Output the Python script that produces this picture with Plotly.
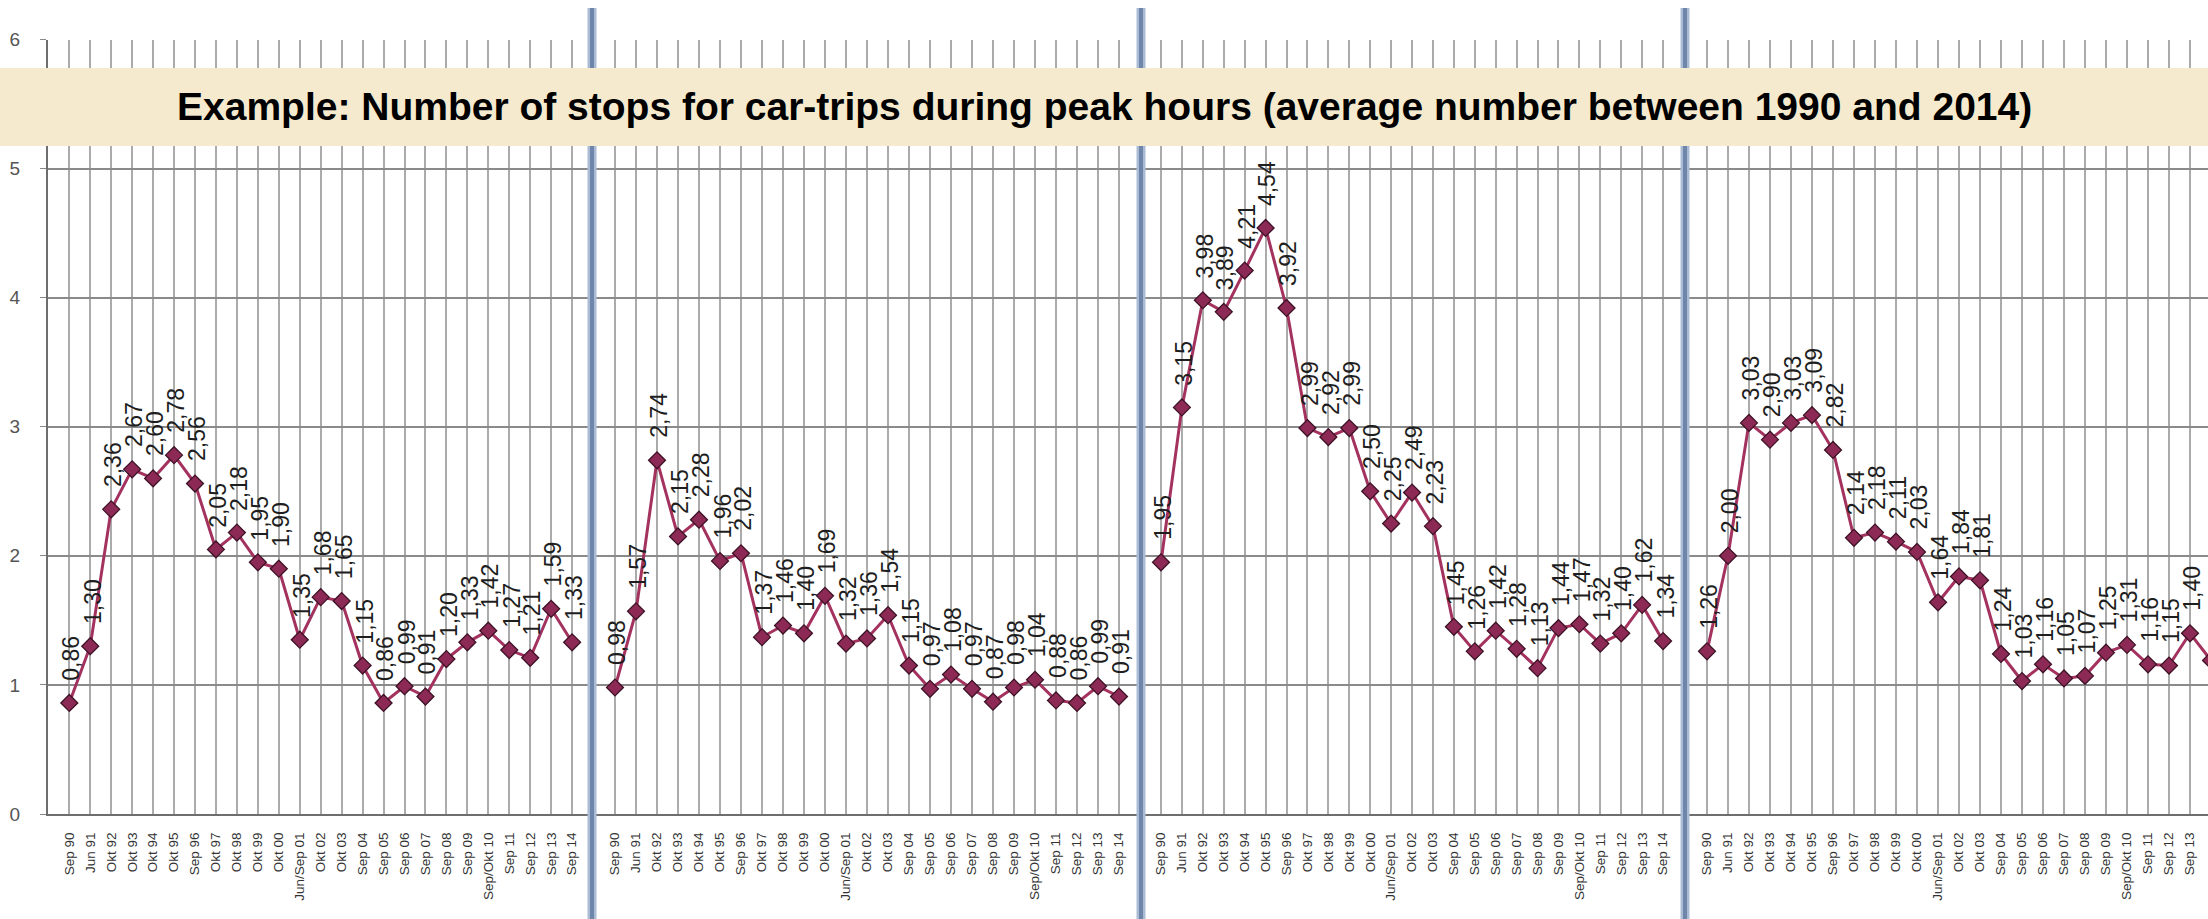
import plotly.graph_objects as go

# ---------------- data ----------------
periods = ["Sep 90", "Jun 91", "Okt 92", "Okt 93", "Okt 94", "Okt 95", "Sep 96", "Okt 97",
           "Okt 98", "Okt 99", "Okt 00", "Jun/Sep 01", "Okt 02", "Okt 03", "Sep 04", "Sep 05",
           "Sep 06", "Sep 07", "Sep 08", "Sep 09", "Sep/Okt 10", "Sep 11", "Sep 12", "Sep 13", "Sep 14"]

panel1 = [0.86, 1.30, 2.36, 2.67, 2.60, 2.78, 2.56, 2.05, 2.18, 1.95, 1.90, 1.35, 1.68, 1.65,
          1.15, 0.86, 0.99, 0.91, 1.20, 1.33, 1.42, 1.27, 1.21, 1.59, 1.33]
panel2 = [0.98, 1.57, 2.74, 2.15, 2.28, 1.96, 2.02, 1.37, 1.46, 1.40, 1.69, 1.32, 1.36, 1.54,
          1.15, 0.97, 1.08, 0.97, 0.87, 0.98, 1.04, 0.88, 0.86, 0.99, 0.91]
panel3 = [1.95, 3.15, 3.98, 3.89, 4.21, 4.54, 3.92, 2.99, 2.92, 2.99, 2.50, 2.25, 2.49, 2.23,
          1.45, 1.26, 1.42, 1.28, 1.13, 1.44, 1.47, 1.32, 1.40, 1.62, 1.34]
panel4 = [1.26, 2.00, 3.03, 2.90, 3.03, 3.09, 2.82, 2.14, 2.18, 2.11, 2.03, 1.64, 1.84, 1.81,
          1.24, 1.03, 1.16, 1.05, 1.07, 1.25, 1.31, 1.16, 1.15, 1.40, 1.19]

y_ticks = [0, 1, 2, 3, 4, 5, 6]
title_text = "Example: Number of stops for car-trips during peak hours (average number between 1990 and 2014)"

# ---------------- layout geometry (pixels) ----------------
W, H = 2208, 919
Y0_PX, Y6_PX = 814, 39.5
# (left edge, right edge, first category centre, category spacing)
panels_geo = [
    (48, 588, 69.3, 20.95),
    (596, 1137, 615, 21.0),
    (1145, 1681, 1161, 20.92),
    (1689, 2208, 1707, 21.0),
]
separators = [592, 1141, 1685]
banner = (68, 146)

LINE_C = "#a3325f"
MARK_C = "#8c2a55"
MARK_LINE = "#3d1226"
FONT = "Liberation Sans, Arial, sans-serif"

series = [panel1, panel2, panel3, panel4]

fig = go.Figure()
annotations = []
shapes = []

ydom = [(H - Y0_PX) / H, (H - Y6_PX) / H]

for i, (vals, geo) in enumerate(zip(series, panels_geo)):
    n = i + 1
    L, R, F, S = geo
    xa = "x" if n == 1 else f"x{n}"
    ya = "y" if n == 1 else f"y{n}"
    fig.add_trace(go.Scatter(
        x=periods, y=vals, xaxis=xa, yaxis=ya, mode="lines+markers",
        line=dict(color=LINE_C, width=3),
        marker=dict(symbol="diamond", size=13, color=MARK_C,
                    line=dict(color=MARK_LINE, width=1.3)),
        showlegend=False, hoverinfo="skip", cliponaxis=True,
    ))
    xkey = "xaxis" if n == 1 else f"xaxis{n}"
    ykey = "yaxis" if n == 1 else f"yaxis{n}"
    fig.layout[xkey] = dict(
        domain=[L / W, R / W], anchor=ya, type="category",
        categoryorder="array", categoryarray=periods,
        range=[(L - F) / S, (R - F) / S],
        showgrid=True, gridcolor="#ababab", gridwidth=1.5,
        showline=True, linecolor="#6e6e6e", linewidth=2,
        ticks="", tickangle=-90, ticklabelstandoff=11,
        tickfont=dict(family=FONT, size=13.5, color="#333"),
        zeroline=False, fixedrange=True, automargin=False,
    )
    ycfg = dict(
        domain=ydom, anchor=xa, range=[0, 6], tickvals=y_ticks,
        showgrid=True, gridcolor="#8a8a8a", gridwidth=1.5,
        zeroline=False, fixedrange=True, automargin=False,
    )
    if n == 1:
        ycfg.update(showline=True, linecolor="#6e6e6e", linewidth=2,
                    ticks="outside", ticklen=6, tickcolor="#8a8a8a",
                    ticklabelstandoff=16,
                    tickfont=dict(family=FONT, size=19, color="#555"))
    else:
        ycfg.update(showticklabels=False, showline=False)
    fig.layout[ykey] = ycfg

    for cat, v in zip(periods, vals):
        annotations.append(dict(
            x=cat, y=v, xref=xa, yref=ya, text=f"{v:.2f}".replace(".", ","),
            textangle=-90, showarrow=False, xanchor="center", yanchor="bottom",
            yshift=20, xshift=2,
            font=dict(family=FONT, size=23, color="#1e1e1e"),
        ))

# panel separators
for cx in separators:
    shapes.append(dict(type="rect", xref="paper", yref="paper",
                       x0=(cx - 4.5) / W, x1=(cx + 4.5) / W, y0=0, y1=(H - 8) / H,
                       fillcolor="#aabbd4", line=dict(width=0), layer="above"))
    shapes.append(dict(type="rect", xref="paper", yref="paper",
                       x0=(cx - 2) / W, x1=(cx + 2) / W, y0=0, y1=(H - 8) / H,
                       fillcolor="#6f86aa", line=dict(width=0), layer="above"))

# title banner
shapes.append(dict(type="rect", xref="paper", yref="paper",
                   x0=0, x1=1, y0=(H - banner[1]) / H, y1=(H - banner[0]) / H,
                   fillcolor="#f5eace", line=dict(width=0), layer="above"))
annotations.append(dict(
    x=0.5, y=(H - (banner[0] + banner[1]) / 2) / H, xref="paper", yref="paper",
    text=f"<b>{title_text}</b>", showarrow=False, xanchor="center", yanchor="middle",
    font=dict(family="Liberation Sans, Arial, sans-serif", size=39, color="#000"),
))

fig.update_layout(
    width=W, height=H, margin=dict(l=0, r=0, t=0, b=0, pad=0),
    paper_bgcolor="white", plot_bgcolor="white",
    annotations=annotations, shapes=shapes,
)

fig.write_html("out.html", config={"displayModeBar": False},
               post_script="document.body.style.margin='0px';document.body.style.overflow='hidden';")
